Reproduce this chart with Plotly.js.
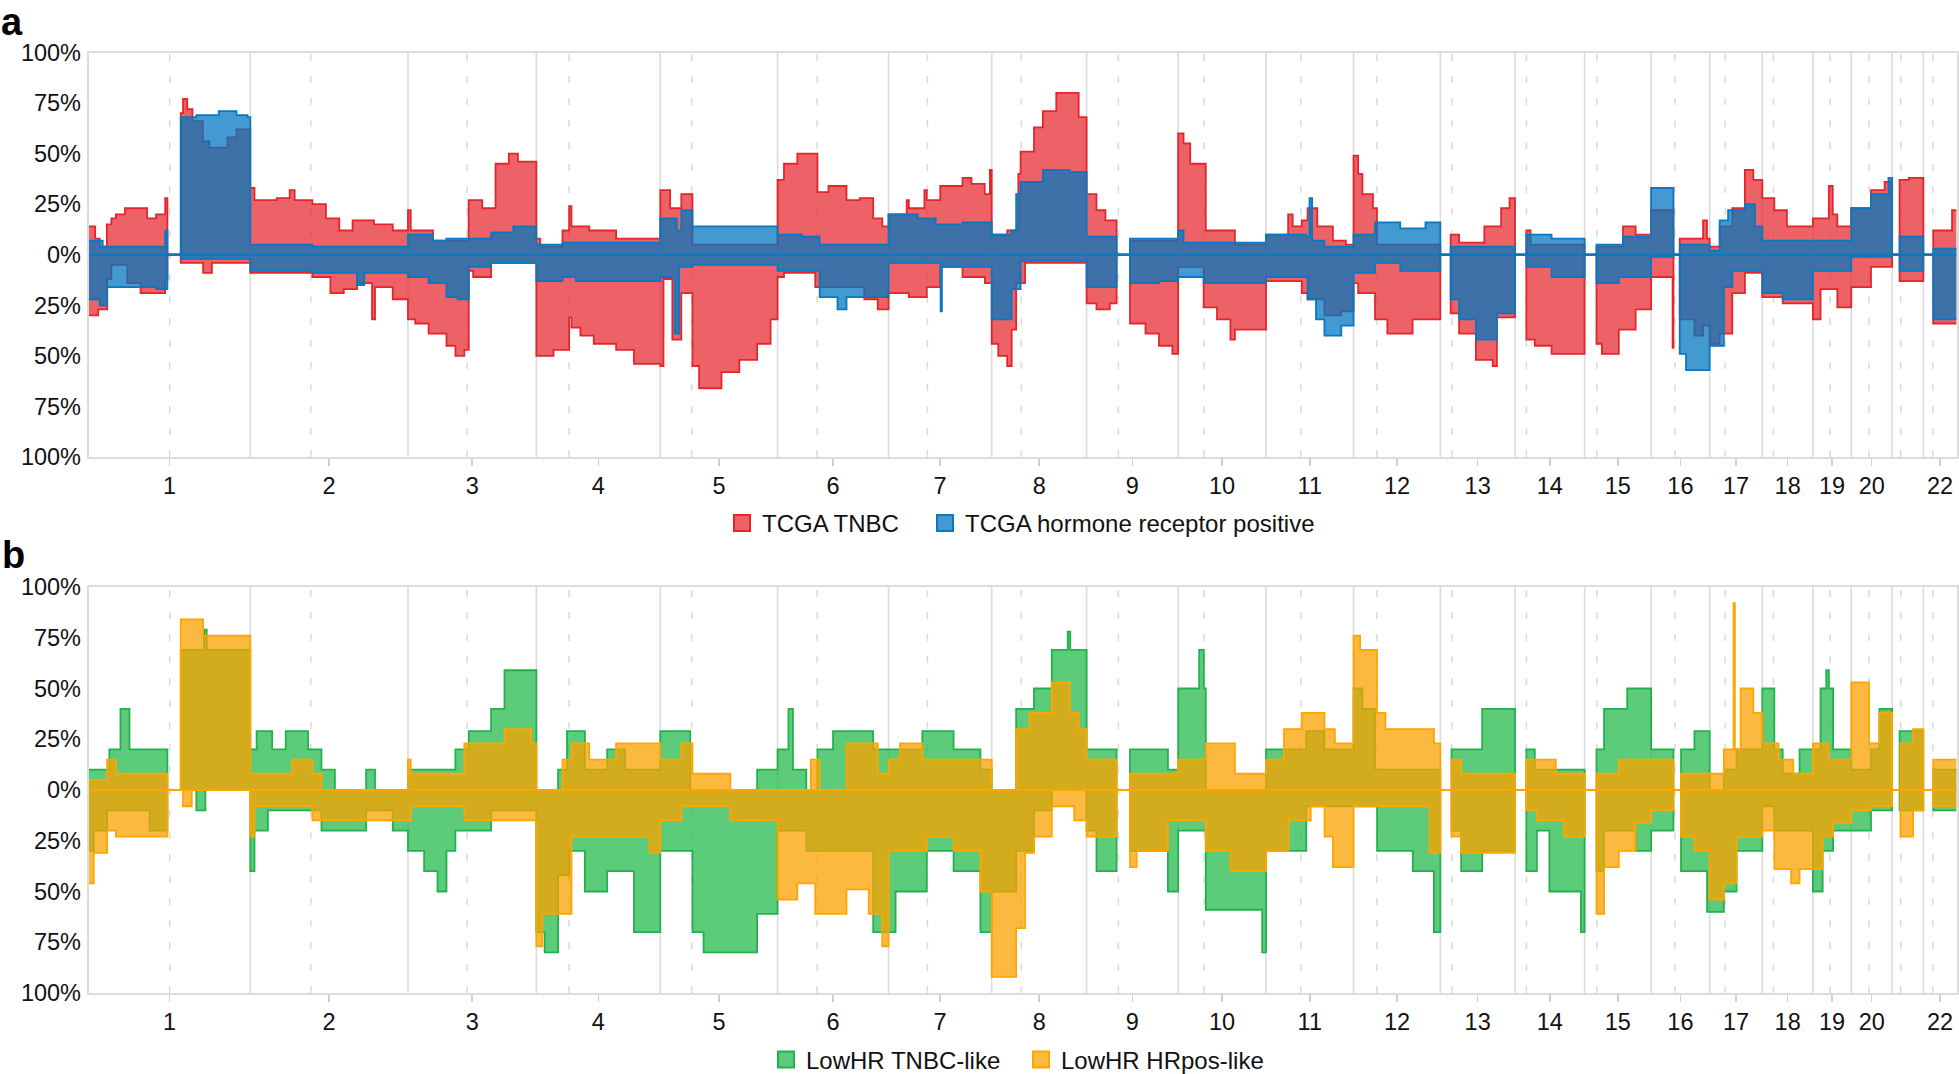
<!DOCTYPE html>
<html><head><meta charset="utf-8">
<script src="https://cdn.plot.ly/plotly-3.0.1.min.js"></script>
<style>body{margin:0;background:#fff}</style>
</head><body><div id="chart" style="width:1959px;height:1074px"></div>
<script>
// Chromosomes (hg19, Mb)
const chromosomes = ['1','2','3','4','5','6','7','8','9','10','11','12','13','14','15','16','17','18','19','20','21','22'];
const chromLengthMb = [249.25,243.2,198.02,191.15,180.92,171.12,159.14,146.36,141.21,135.53,135.01,133.85,115.17,107.35,102.53,90.35,81.2,78.08,59.13,63.03,48.13,51.3];
const centromereMb = [125,93.3,91,50.4,48.4,61,59.9,45.6,49,40.2,53.7,35.8,17.9,17.6,19,36.6,24,17.2,26.5,27.5,13.2,14.7];
const hiddenTickLabels = ['21'];

// Panel a: [cumulative genome position (Mb), % of samples]
const tnbcGain = [[0,14],[10,8],[17,4],[28,15],[35,18],[42,20],[56,23],[90,18],[104,20],[118,28],[121.4,0],[142,70],[145.5,77],[152,72],[160,66],[176,56],[186,53],[214,58],[228,62],
[249.25,33],[255.7,27],[290,28],[310,32],[317.7,27],[345,25],[365.9,18],[386.5,12],[407,17],[440,15],[469,12],
[492.45,22],[496.7,12],[531,7],[586,27],[607,23],[627.5,45],[648,50],[662,46],
[690.47,8],[696.4,4],[730.8,12],[741,24],[744.6,14],[772,12],[813.5,8],
[881.62,32],[896.8,23],[914,30],[931.2,5],
[1062.5,37],[1072.4,45],[1093,50],[1124,31],[1141,34],[1168.8,27],[1189.4,28],[1210,18],[1224,14],
[1233.7,20],[1261.7,27],[1265,23],[1289,32],[1292.7,27],[1313.4,34],[1347.8,38],[1361.6,35],[1382,30],[1390,42],
[1392.8,10],[1416.7,12],[1433.9,40],[1437.3,51],[1458,63],[1471.8,71],[1492.4,80],[1526.9,68],
[1539.16,30],[1554.4,22],[1568.2,17],[1585.4,0],[1606.1,7],
[1680.37,60],[1688.7,55],[1699,45],[1723,12],[1767.9,5],
[1815.9,10],[1850,20],[1857,14],[1871,17],[1880,23],[1895,14],[1919,7],[1939,5],
[1950.9,49],[1958,40],[1964.5,30],[1980.8,23],[1987,5],
[2084.76,0],[2100.7,10],[2113.7,6],[2152.6,14],[2178.5,23],[2191.5,28],
[2199.93,0],[2217.4,12],[2223.9,5],
[2307.28,0],[2325.6,4],[2366.5,14],[2386,10],
[2409.81,22],[2444.3,0],[2454,8],[2490,17],[2496,8],
[2500.16,4],[2515.6,14],[2535.1,23],[2554.5,42],[2567.5,37],
[2581.36,28],[2599.9,22],[2619.3,14],
[2659.44,18],[2684,34],[2690,20],[2697,14],
[2718.57,23],[2749,32],[2770,36],
[2781.6,0],[2793.1,37],[2807.4,38],
[2829.73,0],[2845,12],[2874,22]];
const tnbcLoss = [[0,-30],[14.7,-27],[28.5,-12],[35,-5],[59.5,-14],[80,-19],[118,-12],[121.4,0],[142,-4],[176.5,-9],[190,-4],
[249.25,-9],[345,-11],[372.8,-19],[393.4,-17],[414,-14],[437,-32],[441.6,-16],[469,-22],
[492.45,-32],[503.6,-34],[524.3,-39],[551.8,-45],[565.6,-50],[579.4,-47],[586.2,-8],[593,-11],[620.7,-4],
[690.47,-50],[717,-47],[741,-31],[744.6,-36],[758.4,-40],[779,-44],[813.5,-47],[841,-54],
[881.62,-55],[886.5,-12],[900.2,-42],[914,-19],[931.2,-55],[941.5,-66],[976,-58],[1003.5,-52],[1031,-44],[1051.7,-32],
[1062.5,-11],[1072.4,-9],[1120.6,-16],[1196.3,-22],[1217,-27],
[1233.7,-19],[1265,-21],[1292.7,-16],[1313.4,-6],[1347.8,-11],[1382.3,-14],
[1392.8,-44],[1402.9,-50],[1416.7,-55],[1423.6,-37],[1430.5,-14],[1444.2,-4],
[1539.16,-24],[1554.4,-27],[1575,-24],[1585.4,0],[1606.1,-34],[1630,-39],[1650.8,-45],[1671.5,-49],
[1680.37,-6],[1719.7,-26],[1740.3,-32],[1761,-42],[1767.9,-37],
[1815.9,-13],[1871,-19],[1880,-22],[1906,-30],[1932,-28],
[1950.9,-14],[1958,-19],[1984,-32],[2003,-39],[2042,-32],
[2084.76,0],[2100.7,-29],[2113.7,-39],[2139.6,-52],[2165.5,-55],[2172,-31],
[2199.93,0],[2217.4,-42],[2230.4,-45],[2256.3,-49],
[2307.28,0],[2325.6,-44],[2334,-49],[2360,-37],[2386,-27],
[2409.81,-11],[2443,-46],[2444.3,0],[2454,-32],[2476.7,-40],[2490,-35],
[2500.16,-44],[2515.6,-39],[2535,-19],[2554.5,-9],
[2581.36,-21],[2612.8,-24],
[2659.44,-32],[2671.2,-17],[2697.1,-26],
[2718.57,-16],[2749,-6],
[2781.6,0],[2793.1,-13],
[2829.73,0],[2845,-34]];
const hrGain = [[0,7],[21.6,4],[118,12],[121.4,0],[142,68],[166,69],[200.6,71],[228,69],[245,68],
[249.25,5],[345,4],
[492.45,10],[531,7],[551.8,8],[620.7,11],[655,14],
[690.47,5],[730.8,6],
[881.62,18],[907,12],[914,22],[931.2,14],
[1062.5,10],[1100,9],[1127.5,5],
[1233.7,20],[1279,18],[1306.5,15],[1347.8,16],
[1392.8,10],[1423.6,12],[1430.5,30],[1437.3,36],[1471.8,42],[1513,41],
[1539.16,9],[1585.4,0],[1606.1,8],
[1680.37,12],[1688.7,6],
[1815.9,10],[1878,9],[1883,28],[1887,7],[1906,4],
[1950.9,10],[1984,16],[2022.9,13],[2061.8,16],
[2084.76,0],[2100.7,4],
[2199.93,0],[2217.4,10],[2256.3,8],
[2307.28,0],[2325.6,5],[2366.5,9],
[2409.81,33],[2444.3,0],[2454,5],
[2500.16,2],[2515.6,17],[2528.6,22],[2554.5,25],[2570,14],
[2581.36,7],
[2659.44,7],
[2718.57,23],[2749,30],[2776,38],
[2781.6,0],[2793.1,9],
[2829.73,0],[2845,3]];
const hrLoss = [[0,-22],[17,-25],[28.5,-16],[104,-17],[121.4,0],[142,-2],
[249.25,-8],[345,-9],[414,-15],[425,-9],
[492.45,-11],[524.3,-14],[551.8,-21],[569,-22],[586.2,-6],[620.7,-4],
[690.47,-13],[730.8,-11],[751.5,-13],
[881.62,-11],[903.7,-39],[910.6,-6],[931.2,-5],
[1062.5,-8],[1127.5,-21],[1155,-27],[1168.8,-21],
[1233.7,-4],[1314,-28],[1316,-6],
[1392.8,-32],[1423.6,-17],[1437.3,-3],
[1539.16,-16],[1585.4,0],[1606.1,-14],[1650.8,-13],
[1680.37,-11],[1719.7,-14],
[1815.9,-11],[1880,-22],[1893,-32],[1906,-40],[1932,-35],
[1950.9,-9],[1984,-4],[2022.9,-8],
[2084.76,0],[2100.7,-22],[2113.7,-32],[2139.6,-42],[2172,-29],
[2199.93,0],[2217.4,-6],[2256.3,-11],
[2307.28,0],[2325.6,-14],[2360,-11],
[2409.81,-1],[2444.3,0],[2454,-49],[2463.7,-57],
[2500.16,-45],[2522,-16],[2535,-8],
[2581.36,-19],[2612.8,-22],
[2659.44,-8],
[2718.57,-1],
[2781.6,0],[2793.1,-8],
[2829.73,0],[2845,-32]];

// Panel b
const lowTnbcGain = [[0,10],[31.9,20],[49,40],[62.9,20],[121.4,0],[142,69],[178,79],[182,69],
[249.25,20],[259,29],[283,20],[303.9,29],[338.3,20],[359,10],[379.7,0],[427.9,10],[441.6,0],
[492.45,10],[565.6,20],[586.2,29],[620.7,40],[641.3,59],
[690.47,0],[724,10],[737.7,29],[765.3,10],[799.7,20],[827.2,10],
[881.62,29],[927.8,0],[1031,10],
[1062.5,20],[1079.3,40],[1086.2,10],[1106.8,0],[1124,20],[1148.1,29],[1210,20],
[1233.7,20],[1285.8,29],[1334,20],[1375.4,10],
[1392.8,0],[1430.5,40],[1458,50],[1485.5,69],[1510,78],[1514,69],
[1539.16,20],[1585.4,0],[1606.1,20],[1664.6,10],
[1680.37,50],[1712.8,69],[1720,50],[1723,0],
[1815.9,20],[1878,29],[1906,20],
[1950.9,50],[1964.5,40],[1984,10],
[2084.76,0],[2102,20],[2149.3,40],
[2199.93,0],[2217.4,20],[2230.4,10],
[2307.28,0],[2325.6,20],[2337.3,40],[2373,50],
[2409.81,20],[2444.3,0],[2456,20],[2476.7,29],
[2500.16,0],[2522.1,10],[2541.6,20],
[2581.36,50],[2599.9,20],[2612.8,8],[2638.8,20],
[2659.44,20],[2671.2,50],[2680,59],[2684,50],[2690.6,20],
[2718.57,10],[2749,20],[2762,40],
[2781.6,0],[2793.1,29],
[2829.73,0],[2845,10]];
const lowTnbcLoss = [[0,-30],[7.8,-20],[28.5,-10],[93.9,-20],[121.4,0],[166,-10],[180,0],
[249.25,-40],[255.7,-20],[276.4,-10],[359,-20],[427.9,-10],[469,-20],
[492.45,-30],[517.4,-40],[538,-50],[551.8,-30],[565.6,-20],[620.7,-10],
[690.47,-70],[703.3,-80],[724,-42],[741,-30],[765.3,-50],[799.7,-40],[841,-70],
[881.62,-30],[931.2,-70],[948.4,-80],[1031,-61],
[1062.5,-20],[1106.8,-30],[1210,-70],
[1233.7,-70],[1244.5,-50],[1292.7,-30],[1334,-40],[1375.4,-70],
[1392.8,-50],[1430.5,-30],[1458,-10],[1485.5,0],
[1539.16,-20],[1554.4,-40],[1585.4,0],[1606.1,-30],[1664.6,-50],
[1680.37,-20],[1723,-59],[1810,-80],
[1815.9,-30],[1878,-8],
[1950.9,-8],[1987.2,-30],[2042.3,-40],[2074.8,-70],
[2084.76,0],[2102,-20],[2116.9,-40],[2149.3,-30],
[2199.93,0],[2217.4,-40],[2233.6,-20],[2253,-50],[2301.7,-70],
[2307.28,0],[2325.6,-40],[2337.3,-20],[2386,-30],
[2409.81,-20],[2444.3,0],[2456,-40],[2496.2,-60],
[2500.16,-60],[2522.1,-50],[2541.6,-30],
[2581.36,-8],[2599.9,-20],
[2659.44,-50],[2674.4,-30],[2690.6,-20],
[2718.57,-20],[2749,-10],
[2781.6,0],[2793.1,-10],
[2829.73,0],[2845,-10]];
const lowHrGain = [[0,5],[28.5,15],[42,8],[121.4,0],[142,84],[176.5,76],
[249.25,8],[314,15],[345,8],[359,0],
[492.45,15],[496.7,8],[579.4,23],[641.3,30],[682.6,23],
[690.47,0],[730.8,15],[744.6,23],[772,15],[813.5,23],
[881.62,15],[914,23],[931.2,8],[989.7,0],
[1062.5,0],[1113.7,15],[1127.5,0],[1168.8,23],[1217,8],
[1233.7,15],[1251.4,23],[1285.8,15],
[1392.8,0],[1430.5,30],[1451,38],[1485.5,53],[1513,38],[1527,30],
[1539.16,15],[1585.4,0],[1606.1,8],
[1680.37,15],[1723,23],[1767.9,8],
[1815.9,15],[1843.6,30],[1871,38],[1906,30],[1922,23],
[1950.9,76],[1961,69],[1987,38],[2000,30],[2075,23],
[2084.76,0],[2102,15],[2116.9,8],
[2199.93,0],[2217.4,15],[2262.8,8],
[2307.28,0],[2325.6,8],[2360,15],
[2409.81,15],[2444.3,0],[2456,8],
[2500.16,8],[2522.1,20],[2537,92],[2539,20],[2548,50],[2567.5,38],
[2581.36,23],[2606.4,15],[2629,8],
[2659.44,23],[2684,15],
[2718.57,53],[2746,23],[2762,38],
[2781.6,0],[2794.4,23],[2814,30],
[2829.73,0],[2845,15]];
const lowHrLoss = [[0,-46],[7.8,-31],[28.5,-20],[42,-23],[121.4,0],[145.5,-8],[159,0],
[249.25,-23],[255.7,-8],[345,-15],
[492.45,-15],[496.7,-8],[579.4,-15],
[690.47,-77],[699.8,-61],[744.6,-23],[865,-31],
[881.62,-15],[914,-8],[989.7,-15],
[1062.5,-54],[1093,-46],[1120.6,-61],[1168.8,-49],[1203.2,-61],[1224,-77],
[1233.7,-30],[1292.7,-23],[1334,-30],[1375.4,-50],
[1392.8,-92],[1430.5,-68],[1444.2,-31],[1458,-23],[1485.5,-8],[1520,-15],
[1539.16,-23],[1585.4,0],[1606.1,-38],[1616.4,-30],[1664.6,-15],
[1680.37,-15],[1723,-30],[1761,-40],
[1815.9,-30],[1850.5,-15],[1884.9,-8],[1906.2,-23],[1919,-38],
[1950.9,-8],[2068.3,-31],
[2084.76,0],[2102,-23],[2116.9,-31],
[2199.93,0],[2217.4,-10],[2233.6,-15],[2275.7,-23],
[2307.28,0],[2325.6,-61],[2337.3,-38],[2360,-30],[2386,-16],
[2409.81,-10],[2444.3,0],[2456,-23],[2476.7,-30],
[2500.16,-54],[2522.1,-46],[2541.6,-23],
[2581.36,-20],[2599.9,-39],[2625.8,-46],[2638.8,-39],
[2659.44,-39],[2674.4,-23],[2690.6,-16],
[2718.57,-10],[2749,-8],
[2781.6,0],[2794.4,-23],[2813.9,-10],
[2829.73,0],[2845,-8]];

const seriesNames = {a: ['TCGA TNBC', 'TCGA hormone receptor positive'], b: ['LowHR TNBC-like', 'LowHR HRpos-like']};
const yTickVals = [-100,-75,-50,-25,0,25,50,75,100];

// ---- build ----
const chromStart = [];
let acc = 0;
chromLengthMb.forEach(l => { chromStart.push(acc); acc += l; });
const GENOME_END = acc;
const chromCenter = chromStart.map((s, i) => s + chromLengthMb[i] / 2);
const tickIdx = chromosomes.map((c, i) => i).filter(i => !hiddenTickLabels.includes(chromosomes[i]));

const COL = {
  red: 'rgb(228,38,44)', redFill: 'rgba(228,38,44,0.72)',
  blue: 'rgb(10,120,192)', blueFill: 'rgba(0,119,191,0.74)',
  green: 'rgb(34,177,76)', greenFill: 'rgba(39,187,77,0.75)',
  orange: 'rgb(255,165,0)', orangeFill: 'rgba(251,161,0,0.75)'
};
const FONT = 'Liberation Sans, Arial, Helvetica, sans-serif';

function stepTrace(series, line, fill, xa, ya) {
  const x = series.map(p => p[0]).concat([GENOME_END]);
  const y = series.map(p => p[1]).concat([series[series.length - 1][1]]);
  return {type: 'scatter', mode: 'lines', x, y, xaxis: xa, yaxis: ya,
    line: {shape: 'hv', color: line, width: 1.8}, fill: 'tozeroy', fillcolor: fill,
    showlegend: false, hoverinfo: 'skip'};
}
function zeroTrace(color, xa, ya) {
  return {type: 'scatter', mode: 'lines', x: [0, GENOME_END], y: [0, 0], xaxis: xa, yaxis: ya,
    line: {color, width: 2}, showlegend: false, hoverinfo: 'skip'};
}
function legendTrace(name, line, fill, xa, ya, lg) {
  return {type: 'scatter', mode: 'markers', x: [null], y: [null], xaxis: xa, yaxis: ya, name, legend: lg,
    marker: {symbol: 'square', size: 18, color: fill, line: {color: line, width: 2}}, hoverinfo: 'skip'};
}

const traces = [
  stepTrace(tnbcGain, COL.red, COL.redFill, 'x', 'y'),
  stepTrace(tnbcLoss, COL.red, COL.redFill, 'x', 'y'),
  stepTrace(hrGain, COL.blue, COL.blueFill, 'x', 'y'),
  stepTrace(hrLoss, COL.blue, COL.blueFill, 'x', 'y'),
  zeroTrace(COL.blue, 'x', 'y'),
  stepTrace(lowTnbcGain, COL.green, COL.greenFill, 'x2', 'y2'),
  stepTrace(lowTnbcLoss, COL.green, COL.greenFill, 'x2', 'y2'),
  stepTrace(lowHrGain, COL.orange, COL.orangeFill, 'x2', 'y2'),
  stepTrace(lowHrLoss, COL.orange, COL.orangeFill, 'x2', 'y2'),
  zeroTrace(COL.orange, 'x2', 'y2'),
  legendTrace(seriesNames.a[0], COL.red, COL.redFill, 'x', 'y', 'legend'),
  legendTrace(seriesNames.a[1], COL.blue, COL.blueFill, 'x', 'y', 'legend2'),
  legendTrace(seriesNames.b[0], COL.green, COL.greenFill, 'x2', 'y2', 'legend3'),
  legendTrace(seriesNames.b[1], COL.orange, COL.orangeFill, 'x2', 'y2', 'legend4')
];

const shapes = [];
['x', 'x2'].forEach((xr, k) => {
  const yr = k === 0 ? 'y domain' : 'y2 domain';
  chromStart.forEach((s, i) => {
    if (i > 0) shapes.push({type: 'line', xref: xr, yref: yr, x0: s, x1: s, y0: 0, y1: 1,
      line: {color: '#dcdcdc', width: 1.6}, layer: 'below'});
    const c = s + centromereMb[i];
    shapes.push({type: 'line', xref: xr, yref: yr, x0: c, x1: c, y0: 0, y1: 1,
      line: {color: '#dcdcdc', width: 1.6, dash: '7px,15px'}, layer: 'below'});
  });
});

const W = 1959, H = 1074, MB = 30;
const HP = H - MB;               // plot-area height in px (top margin 0)
const py = px => 1 - px / HP;    // pixel row -> paper fraction
const xDom = [88.7 / W, 1956.6 / W];
function xAxis(anchor) {
  return {domain: xDom, range: [0, GENOME_END], anchor, showgrid: false, zeroline: false,
    showline: true, mirror: true, linecolor: '#dcdcdc', linewidth: 2,
    tickmode: 'array', tickvals: tickIdx.map(i => chromCenter[i]), ticktext: tickIdx.map(i => chromosomes[i]),
    ticks: 'outside', ticklen: 7, tickcolor: '#cfcfcf', tickwidth: 1.5,
    tickfont: {family: FONT, size: 23.5, color: '#111'}, fixedrange: true, automargin: false};
}
function yAxis(anchor, dom) {
  return {domain: dom, range: [-100, 100], anchor, showgrid: false, zeroline: false,
    showline: true, mirror: true, linecolor: '#dcdcdc', linewidth: 2,
    tickmode: 'array', tickvals: yTickVals, ticktext: yTickVals.map(v => Math.abs(v) + '%'),
    ticks: 'outside', ticklen: 1, tickcolor: 'rgba(0,0,0,0)',
    tickfont: {family: FONT, size: 23.5, color: '#111'}, fixedrange: true, automargin: false};
}
function legendAt(xLeftPx, yMidPx) {
  return {orientation: 'h', x: xLeftPx / W, xanchor: 'left',
    y: py(yMidPx), yanchor: 'middle', font: {family: FONT, size: 24, color: '#111'},
    bgcolor: 'rgba(0,0,0,0)', itemclick: false, itemdoubleclick: false};
}

const layout = {
  width: W, height: H, margin: {l: 0, r: 0, t: 0, b: MB, autoexpand: false},
  paper_bgcolor: '#fff', plot_bgcolor: '#fff',
  font: {family: FONT, size: 22, color: '#111'},
  xaxis: xAxis('y'), yaxis: yAxis('x', [py(457), py(52.5)]),
  xaxis2: xAxis('y2'), yaxis2: yAxis('x2', [py(993), py(587)]),
  shapes,
  legend: legendAt(722, 523.5),
  legend2: legendAt(925, 523.5),
  legend3: legendAt(766, 1060),
  legend4: legendAt(1021, 1060),
  annotations: [
    {text: '<b>a</b>', xref: 'paper', yref: 'paper', x: 0, y: 1, xanchor: 'left', yanchor: 'top',
      showarrow: false, borderpad: 0, font: {family: FONT, size: 38, color: '#000'}},
    {text: '<b>b</b>', xref: 'paper', yref: 'paper', x: 0, y: py(555), xanchor: 'left', yanchor: 'middle',
      showarrow: false, font: {family: FONT, size: 38, color: '#000'}}
  ]
};

Plotly.newPlot('chart', traces, layout, {displayModeBar: false, staticPlot: true});
</script>
</body></html>
